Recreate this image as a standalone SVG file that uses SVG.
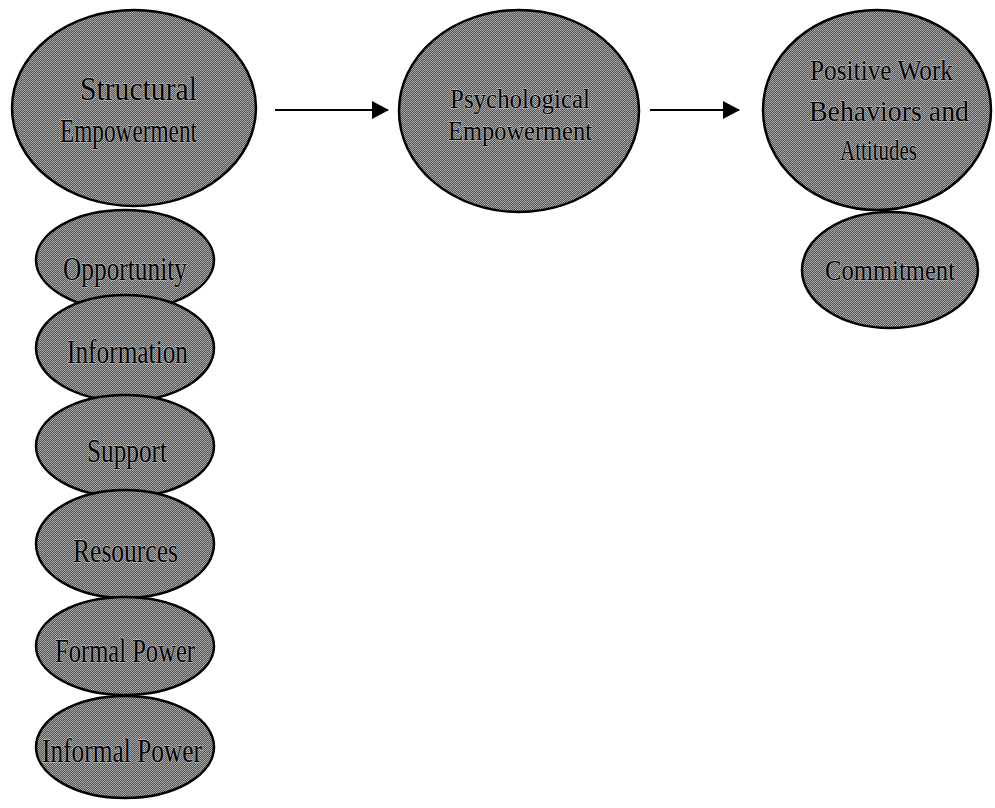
<svg xmlns="http://www.w3.org/2000/svg" width="995" height="808" viewBox="0 0 995 808">
  <defs>
    <pattern id="dither" x="0" y="0" width="4" height="4" patternUnits="userSpaceOnUse">
      <rect width="4" height="4" fill="#555555"/>
      <rect x="0" y="0" width="1" height="1" fill="#b0b0b0"/>
      <rect x="2" y="0" width="1" height="1" fill="#a0a0a0"/>
      <rect x="1" y="1" width="1" height="1" fill="#9a9a9a"/>
      <rect x="3" y="1" width="1" height="1" fill="#b4b4b4"/>
      <rect x="0" y="2" width="1" height="1" fill="#a8a8a8"/>
      <rect x="2" y="2" width="1" height="1" fill="#b0b0b0"/>
      <rect x="1" y="3" width="1" height="1" fill="#a4a4a4"/>
      <rect x="3" y="3" width="1" height="1" fill="#9c9c9c"/>
    </pattern>
    <marker id="arrow" markerWidth="17" markerHeight="18" refX="16" refY="9" orient="auto" markerUnits="userSpaceOnUse">
      <polygon points="0,0 17,9 0,18" fill="#000"/>
    </marker>
  </defs>
  <style>
    .node ellipse { fill: url(#dither); stroke: #000; stroke-width: 2.5; }
    .node text { font-family: "Liberation Serif", "Times New Roman", serif; font-size: 33px; fill: #000; text-anchor: middle; stroke: #b5b5b5; stroke-width: 1.4; paint-order: stroke; stroke-linejoin: round; }
    #psychological text { font-size: 28px; }
    #positive text, #commitment text { font-size: 29px; }
    .conn line { stroke: #000; stroke-width: 2; }
  </style>
  <rect width="995" height="808" fill="#fff"/>

  <g id="structural" class="node">
    <ellipse cx="134" cy="108" rx="122" ry="98"/>
    <text x="138.5" y="100" textLength="117" lengthAdjust="spacingAndGlyphs">Structural</text>
    <text x="128.5" y="142" textLength="137" lengthAdjust="spacingAndGlyphs">Empowerment</text>
  </g>
  <g id="psychological" class="node">
    <ellipse cx="519" cy="111" rx="120" ry="101"/>
    <text x="520" y="108" textLength="140" lengthAdjust="spacingAndGlyphs">Psychological</text>
    <text x="520" y="140" textLength="144" lengthAdjust="spacingAndGlyphs">Empowerment</text>
  </g>
  <g id="positive" class="node">
    <ellipse cx="877" cy="110" rx="114" ry="100"/>
    <text x="881.5" y="80" textLength="143" lengthAdjust="spacingAndGlyphs">Positive Work</text>
    <text x="889" y="121" textLength="160" lengthAdjust="spacingAndGlyphs">Behaviors and</text>
    <text x="878.5" y="160" textLength="77" lengthAdjust="spacingAndGlyphs">Attitudes</text>
  </g>
  <g id="commitment" class="node">
    <ellipse cx="890" cy="270" rx="88" ry="58"/>
    <text x="890" y="280" textLength="130" lengthAdjust="spacingAndGlyphs">Commitment</text>
  </g>

  <g id="opportunity" class="node">
    <ellipse cx="125" cy="260" rx="89" ry="50"/>
    <text x="125" y="280" textLength="124" lengthAdjust="spacingAndGlyphs">Opportunity</text>
  </g>
  <g id="information" class="node">
    <ellipse cx="125" cy="348" rx="89" ry="53"/>
    <text x="127.5" y="363" textLength="121" lengthAdjust="spacingAndGlyphs">Information</text>
  </g>
  <g id="support" class="node">
    <ellipse cx="125" cy="446" rx="89" ry="51"/>
    <text x="127" y="462" textLength="80" lengthAdjust="spacingAndGlyphs">Support</text>
  </g>
  <g id="resources" class="node">
    <ellipse cx="125" cy="544" rx="89" ry="54"/>
    <text x="125.5" y="562" textLength="105" lengthAdjust="spacingAndGlyphs">Resources</text>
  </g>
  <g id="formal-power" class="node">
    <ellipse cx="125" cy="646" rx="89" ry="49"/>
    <text x="125" y="662" textLength="140" lengthAdjust="spacingAndGlyphs">Formal Power</text>
  </g>
  <g id="informal-power" class="node">
    <ellipse cx="125" cy="747" rx="89" ry="51"/>
    <text x="122" y="762" textLength="160" lengthAdjust="spacingAndGlyphs">Informal Power</text>
  </g>

  <g id="connectors" class="conn">
    <line x1="275" y1="110" x2="388" y2="110" marker-end="url(#arrow)"/>
    <line x1="650" y1="110" x2="739" y2="110" marker-end="url(#arrow)"/>
  </g>
</svg>
